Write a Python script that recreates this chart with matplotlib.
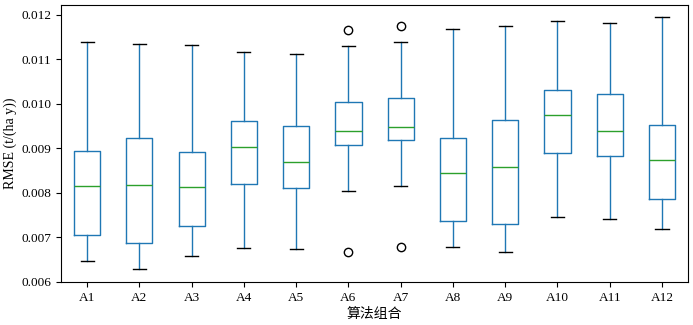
import matplotlib
matplotlib.use("Agg")
import matplotlib.pyplot as plt

categories = ["A1", "A2", "A3", "A4", "A5", "A6", "A7", "A8", "A9", "A10", "A11", "A12"]
whisker_low = [0.00648, 0.00628, 0.00659, 0.00676, 0.00673, 0.00805, 0.00815, 0.00678, 0.00668, 0.00745, 0.00741, 0.00718]
q1 = [0.00706, 0.00688, 0.00726, 0.00820, 0.00812, 0.00908, 0.00918, 0.00737, 0.00729, 0.00890, 0.00883, 0.00787]
median = [0.00815, 0.00817, 0.00813, 0.00904, 0.00870, 0.00939, 0.00949, 0.00845, 0.00858, 0.00975, 0.00939, 0.00874]
q3 = [0.00894, 0.00924, 0.00891, 0.00961, 0.00950, 0.01003, 0.01013, 0.00924, 0.00963, 0.01030, 0.01021, 0.00953]
whisker_high = [0.01139, 0.01135, 0.01133, 0.01116, 0.01113, 0.01129, 0.01139, 0.01169, 0.01175, 0.01187, 0.01181, 0.01194]
outliers = [[], [], [], [], [], [0.01165, 0.00668], [0.01175, 0.00678], [], [], [], [], []]

plt.rcParams['font.family'] = ['Liberation Serif', 'Noto Sans CJK SC', 'DejaVu Sans']

fig = plt.figure(figsize=(6.93, 3.25), dpi=100)
ax = fig.add_axes([0.088, 0.132, 0.905, 0.853])

stats = []
for i, name in enumerate(categories):
    stats.append(dict(label=name, whislo=whisker_low[i], q1=q1[i], med=median[i],
                      q3=q3[i], whishi=whisker_high[i], fliers=outliers[i]))

ax.bxp(stats, positions=range(1, len(categories) + 1), widths=0.5,
       boxprops=dict(color='#1f77b4', linewidth=1.0),
       whiskerprops=dict(color='#1f77b4', linewidth=1.0),
       medianprops=dict(color='#2ca02c', linewidth=1.0),
       capprops=dict(color='black', linewidth=1.0),
       flierprops=dict(marker='o', markerfacecolor='none', markeredgecolor='black', markersize=6))

ax.set_xlim(0.5, 12.5)
ax.set_ylim(0.005995, 0.012223)
ax.set_yticks([0.006, 0.007, 0.008, 0.009, 0.010, 0.011, 0.012])
ax.set_yticklabels(["0.006", "0.007", "0.008", "0.009", "0.010", "0.011", "0.012"])
ax.tick_params(labelsize=9.5)
ax.set_ylabel("RMSE (t/(ha y))", fontsize=10, labelpad=3)
ax.set_xlabel("算法组合", fontsize=10, family=['Noto Sans CJK SC', 'DejaVu Sans'], labelpad=2)

fig.savefig("out.png", dpi=100)
